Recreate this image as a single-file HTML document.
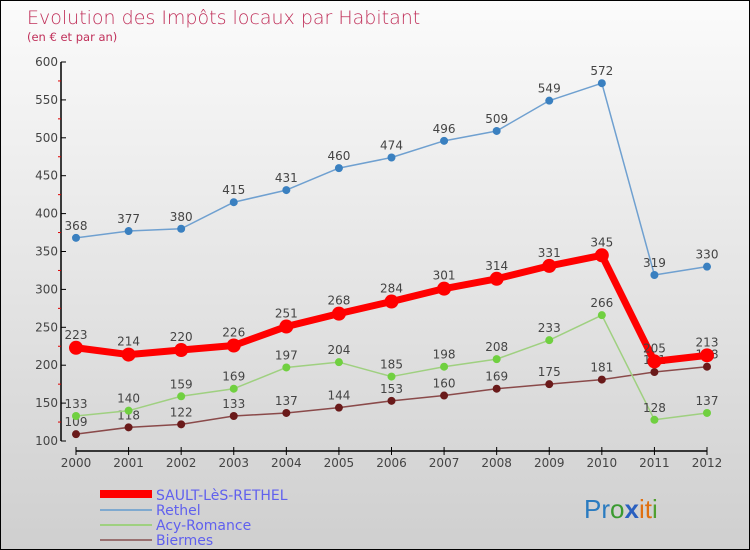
<!DOCTYPE html>
<html><head><meta charset="utf-8"><style>
body{margin:0}
#c{width:748px;height:548px;border:1px solid #000;background:linear-gradient(#fbfbfb,#cfcfcf);position:relative;font-family:"DejaVu Sans","Liberation Sans",sans-serif;overflow:hidden}
</style></head><body>
<div id="c">
<svg id="s" width="748" height="548">
<text x="26" y="23" font-size="19" fill="#c0305a" font-weight="200">Evolution des Impôts locaux par Habitant</text>
<text x="26" y="40" font-size="11.5" fill="#c0305a">(en € et par an)</text>
<g id="axes"></g><g id="series"></g>
<g>
<rect x="99" y="489" width="52" height="8" fill="#f00"/>
<rect x="99" y="508" width="52" height="2" fill="#7fa9cf"/>
<rect x="99" y="523" width="52" height="2" fill="#9fd080"/>
<rect x="99" y="538" width="52" height="2" fill="#997070"/>
<g font-size="14" fill="#6060ee">
<text x="155" y="499">SAULT-LèS-RETHEL</text>
<text x="155" y="514">Rethel</text>
<text x="155" y="529">Acy-Romance</text>
<text x="155" y="544">Biermes</text>
</g></g>
<text x="583" y="517" font-size="26" font-family="Liberation Sans,sans-serif"><tspan fill="#2a7bc0">Pr</tspan><tspan fill="#3a9a30">o</tspan><tspan fill="#2a60c0" font-weight="bold">x</tspan><tspan fill="#e07010">it</tspan><tspan fill="#50a030">i</tspan></text>
</svg></div>
<script>
const years=["2000","2001","2002","2003","2004","2005","2006","2007","2008","2009","2010","2011","2012"];
const yTicks=[100,150,200,250,300,350,400,450,500,550,600];
const sault=[223,214,220,226,251,268,284,301,314,331,345,205,213];
const rethel=[368,377,380,415,431,460,474,496,509,549,572,319,330];
const acy=[133,140,159,169,197,204,185,198,208,233,266,128,137];
const biermes=[109,118,122,133,137,144,153,160,169,175,181,191,198];
const NS="http://www.w3.org/2000/svg";
const X=i=>75+i*(631/12), Y=v=>440-(v-100)*379/500;
function mk(t,a,p){const e=document.createElementNS(NS,t);for(const k in a)e.setAttribute(k,a[k]);p.appendChild(e);return e;}
const ax=document.getElementById('axes');
let l=mk('line',{x1:60,y1:61,x2:60,y2:440,stroke:'#000','stroke-width':1.5},ax);

for(let v=125;v<600;v+=50){let m=mk('line',{x1:57,y1:Y(v),x2:60,y2:Y(v),stroke:'#d00'},ax);}
yTicks.forEach(v=>{let t=mk('line',{x1:60,y1:Y(v),x2:65,y2:Y(v),stroke:'#000'},ax);
let s=mk('text',{x:57,y:Y(v)+4,'font-size':12,fill:'#444','text-anchor':'end'},ax);s.textContent=v;});
l=mk('line',{x1:75,y1:450,x2:706,y2:450,stroke:'#000','stroke-width':1.5},ax);

years.forEach((y,i)=>{let t=mk('line',{x1:X(i),y1:446,x2:X(i),y2:454,stroke:'#000'},ax);
let s=mk('text',{x:X(i),y:466,'font-size':12,fill:'#444','text-anchor':'middle'},ax);s.textContent=y;});
const sg=document.getElementById('series');
function draw(name,d,col,dot,w,r){const g=mk('g',{},sg);
let p=mk('polyline',{points:d.map((v,i)=>X(i)+','+Y(v)).join(' '),fill:'none',stroke:col,'stroke-width':w,'stroke-linejoin':'round'},g);

d.forEach((v,i)=>{let c=mk('circle',{cx:X(i),cy:Y(v),r:r,fill:dot},g);
let t=mk('text',{x:X(i),y:Y(v)-(w>3?9:8),'font-size':12,fill:'#444','text-anchor':'middle'},g);t.textContent=v;});}
draw('biermes',biermes,'#8a4a4a','#6a1a1a',1.5,4);
draw('acy',acy,'#9fd080','#70d040',1.5,4);
draw('rethel',rethel,'#6fa0d0','#3a80c0',1.5,4);
draw('sault',sault,'#f00','#f00',7,7);
</script></body></html>
